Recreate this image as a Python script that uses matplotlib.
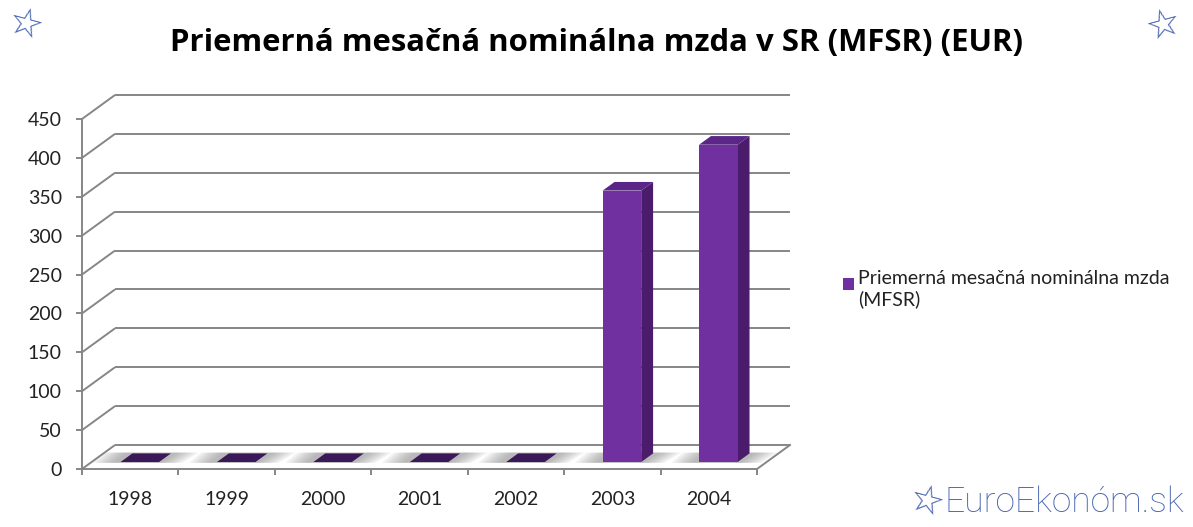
import matplotlib.pyplot as plt
from matplotlib.patches import Polygon

# data
years = ['1998', '1999', '2000', '2001', '2002', '2003', '2004']
wage = [0, 0, 0, 0, 0, 349, 408]
y_ticks = [0, 50, 100, 150, 200, 250, 300, 350, 400, 450]
title = 'Priemerná mesačná nominálna mzda v SR (MFSR) (EUR)'
series_name = 'Priemerná mesačná nominálna mzda\n(MFSR)'

W, H = 1193, 527
FONT = 'Lato'
GRID = '#868686'
FRONT = '#7030A0'
SIDE = '#4A1C6B'
TOP = '#5B2688'
FLAT = '#3B1858'
BLUE = '#4A66B0'

fig = plt.figure(figsize=(W / 100, H / 100), dpi=100)
fig.patch.set_facecolor('white')

# front plane of the 3d box: x 82..757 px, y 469..119 px
ax = fig.add_axes([82 / W, (H - 469) / H, 675 / W, 350 / H])
n = len(years)
ax.set_xlim(0, n)
ax.set_ylim(0, 450)
ax.patch.set_visible(False)

# depth offset of the back wall, in data units
px_x = 675 / n
px_y = 350 / 450
DX = 33 / px_x
DY = 24 / px_y

for sp in ['top', 'right']:
    ax.spines[sp].set_visible(False)
for sp in ['left', 'bottom']:
    ax.spines[sp].set_color(GRID)
    ax.spines[sp].set_linewidth(1.4)

ax.set_yticks(y_ticks)
ax.tick_params(axis='y', direction='out', length=4.5, width=1.4, color=GRID,
               labelsize=14, labelcolor='#222222', pad=10)
ax.set_xticks(range(n + 1))
ax.set_xticklabels([])
ax.tick_params(axis='x', which='major', direction='out', length=4.5, width=1.4, color=GRID)
ax.set_xticks([i + 0.5 for i in range(n)], minor=True)
ax.set_xticklabels(years, minor=True)
ax.tick_params(axis='x', which='minor', length=0, labelsize=14, labelcolor='#222222', pad=16)
for lab in ax.get_xticklabels(minor=True) + ax.get_yticklabels():
    lab.set_fontfamily(FONT)

# walls: diagonals on the side wall and horizontal lines on the back wall
for t in y_ticks:
    ax.plot([0, DX], [t, t + DY], color=GRID, lw=1.4, clip_on=False, zorder=1,
            solid_capstyle='butt')
    ax.plot([DX, n + DX], [t + DY, t + DY], color=GRID, lw=1.4, clip_on=False, zorder=1,
            solid_capstyle='butt')
ax.plot([n, n + DX], [0, DY], color=GRID, lw=1.4, clip_on=False, zorder=1)

# bars
f0, d = 0.29, 0.36
bw = 0.4
for i, v in enumerate(wage):
    x0 = i + 0.3 + f0 * DX
    y0 = f0 * DY
    ddx, ddy = d * DX, d * DY
    # soft floor shadow
    for k in range(7):
        g = 0.03 + k * 0.035
        sh = [(x0 - g - 0.05, y0 - 1), (x0 + bw + g, y0 - 1),
              (x0 + bw + g + ddx + 0.05, y0 + ddy + 1), (x0 - g + ddx - 0.05, y0 + ddy + 1)]
        ax.add_patch(Polygon(sh, closed=True, facecolor='#808080', edgecolor='none',
                             alpha=0.1, clip_on=False, zorder=2))
    if v <= 0:
        flat = [(x0, y0), (x0 + bw, y0), (x0 + bw + ddx, y0 + ddy), (x0 + ddx, y0 + ddy)]
        ax.add_patch(Polygon(flat, closed=True, facecolor=FLAT, edgecolor='none',
                             clip_on=False, zorder=3))
        continue
    side = [(x0 + bw, y0), (x0 + bw + ddx, y0 + ddy), (x0 + bw + ddx, y0 + ddy + v), (x0 + bw, y0 + v)]
    top = [(x0, y0 + v), (x0 + bw, y0 + v), (x0 + bw + ddx, y0 + v + ddy), (x0 + ddx, y0 + v + ddy)]
    ax.add_patch(Polygon(side, closed=True, facecolor=SIDE, edgecolor='none', clip_on=False, zorder=3))
    ax.add_patch(Polygon(top, closed=True, facecolor=TOP, edgecolor='none', clip_on=False, zorder=3))
    ax.bar(x0, v, width=bw, bottom=y0, align='edge', color=FRONT, zorder=4, clip_on=False)

# title
fig.text(596 / W, 1 - 43 / H, title, ha='center', va='center', fontsize=22.4,
         fontweight='bold', fontfamily='Open Sans', color='black')

# legend
fig.patches.append(plt.Rectangle((843 / W, 1 - 290 / H), 11 / W, 12 / H,
                                 transform=fig.transFigure, facecolor=FRONT, edgecolor='none'))
fig.text(858 / W, 1 - 270 / H, series_name, ha='left', va='top', fontsize=14,
         fontfamily=FONT, color='#222222', linespacing=1.22)

# decoration: stars and watermark
fig.text(25 / W, 1 - 25 / H, '\u2606', ha='center', va='center', fontsize=28,
         fontfamily='DejaVu Sans', color=BLUE, rotation=-15)
fig.text(1163 / W, 1 - 25 / H, '\u2606', ha='center', va='center', fontsize=28,
         fontfamily='DejaVu Sans', color=BLUE, rotation=15)
fig.text(926 / W, 1 - 502 / H, '\u2606', ha='center', va='center', fontsize=28,
         fontfamily='DejaVu Sans', color=BLUE, rotation=-15)
fig.text(945 / W, 1 - 502 / H, 'EuroEkonóm.sk', ha='left', va='center', fontsize=25.5,
         fontfamily='Roboto', fontweight='light', color=BLUE)

fig.savefig('out.png', dpi=100, facecolor='white')
